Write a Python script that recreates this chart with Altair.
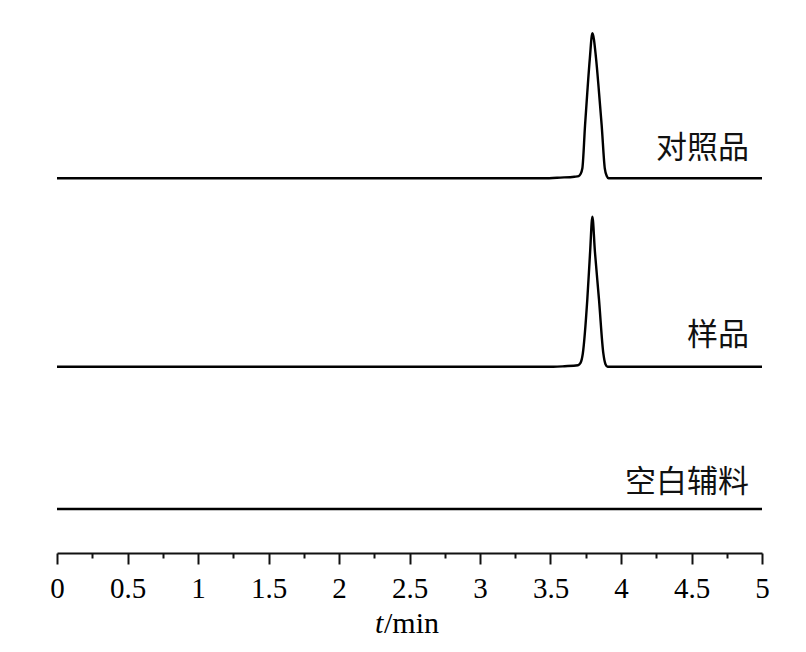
import altair as alt
import pandas as pd

# ---- data (time in min, detector response in arbitrary units) ----
SERIES = ["对照品", "样品", "空白辅料"]

REF_T = [0.0, 3.45, 3.57, 3.67, 3.70, 3.712, 3.726, 3.745, 3.761, 3.779, 3.797,
         3.823, 3.844, 3.863, 3.885, 3.90, 3.912, 3.93, 5.0]
REF_SIGNAL = [0.0, 0.0, 0.7, 1.6, 2.2, 4.0, 10.0, 53.0, 86.0, 120.0, 145.0,
              120.0, 86.0, 53.0, 10.0, 2.0, 0.0, 0.0, 0.0]

SAMPLE_T = [0.0, 3.52, 3.60, 3.695, 3.712, 3.729, 3.761, 3.781, 3.797,
            3.815, 3.844, 3.875, 3.89, 3.905, 3.93, 5.0]
SAMPLE_SIGNAL = [0.0, 0.0, 0.5, 1.5, 3.5, 13.0, 67.0, 115.0, 150.0,
                 115.0, 67.0, 13.0, 2.5, 0.0, 0.0, 0.0]

BLANK_T = [0.0, 5.0]
BLANK_SIGNAL = [0.0, 0.0]

MAJOR_TICKS = [0, 0.5, 1, 1.5, 2, 2.5, 3, 3.5, 4, 4.5, 5]
MINOR_TICKS = [0.25, 0.75, 1.25, 1.75, 2.25, 2.75, 3.25, 3.75, 4.25, 4.75]

# ---- layout (vertical stacking of the traces, label lifts) ----
OFFSETS = {"对照品": 374.7, "样品": 186.3, "空白辅料": 44.0}
LABEL_LIFT = {"对照品": 20.0, "样品": 22.0, "空白辅料": 17.0}

rows = []
for name, ts, vs in [("对照品", REF_T, REF_SIGNAL),
                     ("样品", SAMPLE_T, SAMPLE_SIGNAL),
                     ("空白辅料", BLANK_T, BLANK_SIGNAL)]:
    for t, v in zip(ts, vs):
        rows.append({"t": t, "signal": v, "series": name, "y": v + OFFSETS[name]})
traces = pd.DataFrame(rows)

labels = pd.DataFrame({
    "series": SERIES,
    "t": [5.0] * len(SERIES),
    "y": [OFFSETS[s] + LABEL_LIFT[s] for s in SERIES],
})

W, H = 705, 530
xscale = alt.Scale(domain=[0, 5], nice=False, zero=True)
yscale = alt.Scale(domain=[0, H], nice=False)

major_axis = alt.Axis(
    orient="bottom",
    values=MAJOR_TICKS, format="~g", title=None, grid=False,
    domain=True, domainColor="#111", domainWidth=2,
    ticks=True, tickColor="#111", tickWidth=2, tickSize=11,
    labelFont="Liberation Serif", labelFontSize=29, labelColor="#000",
    labelPadding=10, labelFlush=False, labelOverlap=False,
)
minor_axis = alt.Axis(
    orient="bottom",
    values=MINOR_TICKS, title=None, grid=False, domain=False, labels=False,
    ticks=True, tickColor="#111", tickWidth=2, tickSize=5,
)

lines = alt.Chart(traces).mark_line(
    color="#000", strokeWidth=2.4, interpolate="monotone"
).encode(
    x=alt.X("t:Q", scale=xscale, axis=major_axis),
    y=alt.Y("y:Q", scale=yscale, axis=None),
    detail="series:N",
)

text_labels = alt.Chart(labels).mark_text(
    align="right", baseline="alphabetic", dx=-13,
    font="Noto Sans CJK SC", fontSize=31, color="#111",
).encode(
    x=alt.X("t:Q", scale=xscale, axis=minor_axis),
    y=alt.Y("y:Q", scale=yscale, axis=None),
    text="series:N",
)

one = pd.DataFrame({"k": [0]})
title_t = alt.Chart(one).mark_text(
    text="t", align="left", baseline="alphabetic",
    font="Liberation Serif", fontSize=30, fontStyle="italic", color="#000",
).encode(x=alt.value(318), y=alt.value(610))
title_rest = alt.Chart(one).mark_text(
    text="/min", align="left", baseline="alphabetic",
    font="Liberation Serif", fontSize=30, color="#000",
).encode(x=alt.value(327), y=alt.value(610))

chart = alt.layer(lines, text_labels, title_t, title_rest).resolve_axis(
    x="independent"
).properties(
    width=W, height=H,
    autosize=alt.AutoSizeParams(type="none"),
    padding={"left": 49, "top": 15, "right": 30, "bottom": 95},
    view=alt.ViewBackground(strokeWidth=0, strokeOpacity=0, fill="white"),
).configure_view(strokeWidth=0, strokeOpacity=0).configure(background="white")

chart.save("out.html", embed_options={"renderer": "svg", "actions": False})
